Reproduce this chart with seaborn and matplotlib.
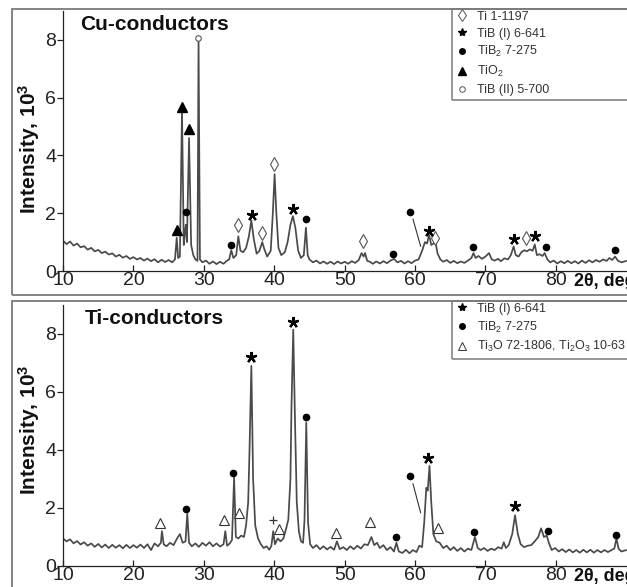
import matplotlib
matplotlib.use("Agg")
import matplotlib.pyplot as plt
import matplotlib.transforms as mtransforms
from matplotlib.lines import Line2D
from matplotlib.patches import Rectangle
import pandas as pd
import seaborn as sns

# ---- Cu-conductors pattern (2theta, intensity x10^3)
cu_2theta = [
    10.0, 10.5, 11.0, 11.5, 12.0, 12.5, 13.0, 13.5, 14.0, 14.5, 15.0, 15.5,
    16.0, 16.5, 17.0, 17.5, 18.0, 18.5, 19.0, 19.5, 20.0, 20.5, 21.0, 21.5,
    22.0, 22.5, 23.0, 23.5, 24.0, 24.5, 25.0, 25.5, 25.9, 26.15, 26.35, 26.6,
    26.9, 27.15, 27.3, 27.45, 27.6, 27.9, 28.2, 28.5, 28.8, 29.1, 29.25, 29.45,
    29.8, 30.3, 30.8, 31.3, 31.8, 32.3, 32.8, 33.3, 33.6, 33.9, 34.2, 34.6,
    34.9, 35.2, 35.6, 36.0, 36.4, 36.75, 37.1, 37.5, 37.9, 38.3, 38.6, 39.0,
    39.5, 39.8, 40.05, 40.3, 40.6, 41.0, 41.5, 41.9, 42.3, 42.65, 43.0, 43.4,
    43.8, 44.2, 44.5, 44.75, 45.0, 45.5, 46.0, 46.5, 47.0, 47.5, 48.0, 48.5,
    49.0, 49.5, 50.0, 50.5, 51.0, 51.5, 52.0, 52.4, 52.7, 52.9, 53.2, 53.6,
    54.0, 54.5, 55.0, 55.5, 56.0, 56.5, 57.0, 57.5, 58.0, 58.5, 59.0, 59.5,
    60.0, 60.5, 61.0, 61.4, 61.7, 62.0, 62.3, 62.6, 62.9, 63.2, 63.6, 64.0,
    64.5, 65.0, 65.5, 66.0, 66.5, 67.0, 67.5, 68.0, 68.3, 68.6, 69.0, 69.5,
    70.0, 70.5, 70.9, 71.3, 71.8, 72.2, 72.7, 73.2, 73.6, 74.0, 74.3, 74.7,
    75.1, 75.5, 75.9, 76.3, 76.7, 77.0, 77.3, 77.7, 78.1, 78.4, 78.8, 79.2,
    79.7, 80.2, 80.7, 81.2, 81.7, 82.2, 82.7, 83.2, 83.7, 84.2, 84.7, 85.2,
    85.7, 86.2, 86.7, 87.2, 87.6, 88.0, 88.4, 88.8, 89.3, 90.0,
]
cu_intensity = [
    1.05, 0.93, 1.02, 0.88, 0.95, 0.82, 0.86, 0.74, 0.80, 0.68, 0.73, 0.62,
    0.67, 0.57, 0.61, 0.50, 0.56, 0.46, 0.52, 0.42, 0.48, 0.40, 0.45, 0.36,
    0.43, 0.34, 0.41, 0.30, 0.39, 0.31, 0.38, 0.30, 0.40, 1.15, 0.45, 0.50,
    5.55, 0.90, 1.30, 1.60, 1.00, 4.60, 0.90, 0.55, 0.40, 0.35, 8.00, 0.40,
    0.30, 0.36, 0.25, 0.33, 0.24, 0.32, 0.25, 0.36, 0.40, 0.72, 0.45, 0.55,
    1.20, 0.70, 0.65, 0.80, 1.20, 1.75, 1.10, 0.60, 0.70, 1.00, 0.75, 0.50,
    0.70, 2.00, 3.35, 2.00, 0.80, 0.55, 0.65, 1.00, 1.60, 1.90, 1.50, 0.70,
    0.45, 0.55, 1.50, 0.55, 0.40, 0.30, 0.36, 0.26, 0.33, 0.25, 0.32, 0.24,
    0.33, 0.26, 0.32, 0.25, 0.34, 0.28, 0.38, 0.62, 0.50, 0.62, 0.35, 0.32,
    0.25, 0.33, 0.26, 0.34, 0.27, 0.36, 0.42, 0.30, 0.35, 0.26, 0.34, 0.27,
    0.36, 0.40, 0.70, 1.00, 0.95, 1.25, 0.90, 0.95, 1.00, 0.60, 0.40, 0.32,
    0.38, 0.28, 0.35, 0.27, 0.33, 0.28, 0.36, 0.45, 0.62, 0.45, 0.52, 0.42,
    0.50, 0.62, 0.40, 0.36, 0.42, 0.34, 0.44, 0.40, 0.55, 0.85, 0.55, 0.50,
    0.65, 0.72, 0.68, 0.75, 0.70, 0.92, 0.55, 0.58, 0.52, 0.62, 0.40, 0.30,
    0.36, 0.26, 0.34, 0.27, 0.35, 0.27, 0.34, 0.26, 0.36, 0.28, 0.37, 0.30,
    0.38, 0.32, 0.40, 0.35, 0.45, 0.38, 0.50, 0.36, 0.30, 0.35,
]

# ---- Ti-conductors pattern
ti_2theta = [
    10.0, 10.5, 11.0, 11.5, 12.0, 12.5, 13.0, 13.5, 14.0, 14.5, 15.0, 15.5,
    16.0, 16.5, 17.0, 17.5, 18.0, 18.5, 19.0, 19.5, 20.0, 20.5, 21.0, 21.5,
    22.0, 22.5, 23.0, 23.5, 23.9, 24.05, 24.3, 24.7, 25.2, 25.7, 26.2, 26.6,
    27.0, 27.4, 27.65, 27.9, 28.3, 28.8, 29.3, 29.8, 30.3, 30.8, 31.3, 31.8,
    32.3, 32.8, 33.05, 33.3, 33.7, 34.0, 34.3, 34.55, 34.9, 35.3, 35.7, 36.0,
    36.3, 36.5, 36.75, 37.0, 37.3, 37.7, 38.1, 38.5, 38.9, 39.3, 39.6, 39.85,
    40.1, 40.5, 40.9, 41.3, 41.7, 42.0, 42.3, 42.45, 42.7, 42.95, 43.2, 43.5,
    43.8, 44.1, 44.3, 44.55, 44.8, 45.1, 45.5, 46.0, 46.5, 47.0, 47.5, 48.0,
    48.5, 48.9, 49.3, 49.8, 50.3, 50.8, 51.3, 51.8, 52.3, 52.8, 53.3, 53.8,
    54.2, 54.6, 55.0, 55.5, 56.0, 56.5, 57.0, 57.35, 57.7, 58.2, 58.7, 59.2,
    59.7, 60.2, 60.6, 61.0, 61.3, 61.6, 61.8, 62.05, 62.3, 62.6, 63.0, 63.5,
    64.0, 64.5, 65.0, 65.5, 66.0, 66.5, 67.0, 67.5, 68.0, 68.5, 68.9, 69.3,
    69.8, 70.3, 70.8, 71.3, 71.8, 72.3, 72.6, 72.9, 73.3, 73.8, 74.2, 74.6,
    75.0, 75.5, 76.0, 76.5, 77.0, 77.5, 77.9, 78.3, 78.7, 79.0, 79.4, 79.9,
    80.4, 80.9, 81.4, 81.9, 82.4, 82.9, 83.4, 83.9, 84.4, 84.9, 85.4, 85.9,
    86.4, 86.9, 87.4, 87.9, 88.3, 88.6, 88.9, 89.3, 90.0,
]
ti_intensity = [
    0.95, 0.85, 0.92, 0.78, 0.86, 0.74, 0.82, 0.70, 0.78, 0.66, 0.76, 0.64,
    0.74, 0.62, 0.73, 0.63, 0.72, 0.61, 0.73, 0.62, 0.72, 0.63, 0.74, 0.62,
    0.75, 0.55, 0.78, 0.68, 0.80, 1.20, 0.75, 0.68, 0.80, 0.72, 0.95, 1.10,
    0.80, 0.85, 1.80, 0.80, 0.68, 0.78, 0.66, 0.80, 0.70, 0.82, 0.68, 0.78,
    0.67, 0.75, 1.20, 0.70, 0.78, 0.90, 3.05, 1.00, 0.95, 1.05, 1.00, 1.40,
    2.20, 4.10, 6.90, 3.00, 1.40, 0.95, 0.75, 0.62, 0.68, 0.56, 0.70, 1.20,
    0.75, 0.95, 0.85, 0.95, 1.30, 1.60, 3.00, 5.50, 8.15, 5.00, 2.20, 1.20,
    0.85, 0.80, 1.60, 4.95, 1.50, 0.75, 0.62, 0.72, 0.58, 0.68, 0.57, 0.66,
    0.56, 0.85, 0.58, 0.65, 0.55, 0.68, 0.58, 0.70, 0.60, 0.75, 0.72, 1.00,
    0.72, 0.80, 0.62, 0.72, 0.55, 0.65, 0.50, 0.80, 0.50, 0.45, 0.56, 0.44,
    0.55, 0.48, 0.70, 0.65, 1.50, 2.70, 2.60, 3.45, 2.20, 1.10, 0.85, 0.80,
    0.62, 0.70, 0.55, 0.65, 0.52, 0.62, 0.50, 0.60, 0.55, 1.00, 0.62, 0.55,
    0.62, 0.52, 0.60, 0.55, 0.65, 0.60, 0.82, 0.62, 0.72, 1.10, 1.75, 1.10,
    0.75, 0.65, 0.70, 0.72, 0.85, 1.00, 1.30, 1.00, 1.05, 0.80, 0.55, 0.62,
    0.50, 0.58, 0.48, 0.57, 0.47, 0.55, 0.46, 0.56, 0.47, 0.56, 0.46, 0.55,
    0.47, 0.55, 0.48, 0.55, 0.60, 0.95, 0.60, 0.50, 0.55,
]

# ---- phase marks (2theta, height of the mark)
cu_ti_x = [34.9, 38.3, 40.0, 52.6, 62.8, 75.8]
cu_ti_y = [1.6, 1.3, 3.7, 1.05, 1.15, 1.15]
cu_tib1_x = [36.8, 42.6, 62.0, 74.0, 77.0]
cu_tib1_y = [1.95, 2.15, 1.4, 1.1, 1.2]
cu_tib2_x = [27.5, 33.9, 44.5, 56.9, 59.3, 68.2, 78.6, 88.4]
cu_tib2_y = [2.03, 0.9, 1.8, 0.58, 2.03, 0.82, 0.83, 0.72]
cu_tio2_x = [26.2, 26.9, 27.9]
cu_tio2_y = [1.41, 5.69, 4.93]
cu_tib2nd_x = [29.2]
cu_tib2nd_y = [8.07]
cu_leader_x = [59.7, 60.8]
cu_leader_y = [1.8, 0.85]

ti_tib1_x = [36.7, 42.7, 61.9, 74.2]
ti_tib1_y = [7.2, 8.4, 3.74, 2.08]
ti_tib2_x = [27.5, 34.1, 44.5, 57.3, 59.3, 68.4, 78.9, 88.6]
ti_tib2_y = [1.97, 3.2, 5.15, 1.0, 3.1, 1.17, 1.21, 1.07]
ti_oxide_x = [23.8, 32.9, 35.0, 40.7, 48.8, 53.6, 63.3]
ti_oxide_y = [1.49, 1.6, 1.82, 1.27, 1.13, 1.52, 1.3]
ti_plus_x = [39.8]
ti_plus_y = [1.6]
ti_leader_x = [59.7, 60.8]
ti_leader_y = [2.84, 1.83]

x_ticks = [10, 20, 30, 40, 50, 60, 70, 80]
y_ticks = [0, 2, 4, 6, 8]

sns.set_style("ticks")
plt.rcParams["font.family"] = ["Liberation Sans", "DejaVu Sans"]
plt.rcParams["mathtext.default"] = "regular"

line_col = "#4a4a4a"
frame_col = "#7a7a7a"
W, H = 627, 587

fig = plt.figure(figsize=(W / 100, H / 100), dpi=100)
ax_top = fig.add_axes([63 / W, 1 - 271 / H, 1 - 63 / W, 260 / H])
ax_bot = fig.add_axes([63 / W, 1 - 566 / H, 1 - 63 / W, 261 / H])

cu = pd.DataFrame({"two_theta": cu_2theta, "intensity": cu_intensity})
ti = pd.DataFrame({"two_theta": ti_2theta, "intensity": ti_intensity})
sns.lineplot(data=cu, x="two_theta", y="intensity", ax=ax_top, color=line_col,
             lw=1.25, estimator=None, sort=False)
sns.lineplot(data=ti, x="two_theta", y="intensity", ax=ax_bot, color=line_col,
             lw=1.25, estimator=None, sort=False)

# styles of the phase marks
diamond = dict(marker="d", ms=7, mfc="white", mec="#555555", mew=0.8, ls="none")
star = dict(marker=(5, 2, 0), ms=8, mec="black", mew=1.6, ls="none")
dot = dict(marker="o", ms=4.5, mfc="black", mec="black", ls="none")
tri = dict(marker="^", ms=7, mfc="black", mec="black", ls="none")
ring = dict(marker="o", ms=4, mfc="white", mec="#555555", mew=0.8, ls="none")
otri = dict(marker="^", ms=7, mfc="white", mec="#333333", mew=0.8, ls="none")
plus = dict(marker="+", ms=6, mec="#333333", mew=0.9, ls="none")

ax_top.plot(cu_ti_x, cu_ti_y, **diamond)
ax_top.plot(cu_tib1_x, cu_tib1_y, **star)
ax_top.plot(cu_tib2_x, cu_tib2_y, **dot)
ax_top.plot(cu_tio2_x, cu_tio2_y, **tri)
ax_top.plot(cu_tib2nd_x, cu_tib2nd_y, **ring)
ax_top.plot(cu_leader_x, cu_leader_y, color="#333333", lw=0.8)

ax_bot.plot(ti_tib1_x, ti_tib1_y, **star)
ax_bot.plot(ti_tib2_x, ti_tib2_y, **dot)
ax_bot.plot(ti_oxide_x, ti_oxide_y, **otri)
ax_bot.plot(ti_plus_x, ti_plus_y, **plus)
ax_bot.plot(ti_leader_x, ti_leader_y, color="#333333", lw=0.8)

for ax, name, tx, ly in [(ax_top, "Cu-conductors", 0.030, 0.47),
                         (ax_bot, "Ti-conductors", 0.039, 0.52)]:
    ax.set_xlim(10, 90.1)
    ax.set_ylim(0, 9)
    ax.set_xticks(x_ticks)
    ax.set_yticks(y_ticks)
    sns.despine(ax=ax)
    for s in ["left", "bottom"]:
        ax.spines[s].set_color("#222222")
        ax.spines[s].set_linewidth(0.9)
    ax.tick_params(axis="x", direction="in", length=4, width=0.9, pad=1,
                   labelsize=14, colors="#222222")
    ax.tick_params(axis="y", direction="out", length=4, width=0.9, pad=1,
                   labelsize=14, colors="#222222")
    ax.set_xlabel("")
    ax.set_ylabel("Intensity, 10$^3$", fontsize=15, fontweight="bold",
                  color="#111111")
    ax.yaxis.set_label_coords(-0.037, ly)
    ax.text(tx, 0.985, name, transform=ax.transAxes, fontsize=15,
            fontweight="bold", va="top", ha="left", color="#111111")
    trans = mtransforms.blended_transform_factory(ax.transData, ax.transAxes)
    ax.text(82.6, -0.008, "2θ, deg", transform=trans, fontsize=13,
            fontweight="bold", va="top", ha="left", color="#111111")

# legends
h_top = [
    Line2D([], [], marker="d", ms=6, mfc="white", mec="#555555", mew=0.7, ls="none"),
    Line2D([], [], marker="*", ms=6, color="black", ls="none"),
    Line2D([], [], marker="o", ms=4, color="black", ls="none"),
    Line2D([], [], marker="^", ms=6, color="black", ls="none"),
    Line2D([], [], marker="o", ms=4, mfc="white", mec="#555555", mew=0.7, ls="none"),
]
lab_top = ["Ti 1-1197", "TiB (I) 6-641", "TiB$_2$ 7-275", "TiO$_2$",
           "TiB (II) 5-700"]
h_bot = [
    Line2D([], [], marker="*", ms=6, color="black", ls="none"),
    Line2D([], [], marker="o", ms=4, color="black", ls="none"),
    Line2D([], [], marker="^", ms=6, mfc="white", mec="#333333", mew=0.7, ls="none"),
]
lab_bot = ["TiB (I) 6-641", "TiB$_2$ 7-275", "Ti$_3$O 72-1806, Ti$_2$O$_3$ 10-63"]

leg_kw = dict(loc="upper left", bbox_transform=fig.transFigure, frameon=False,
              fontsize=9, handlelength=1.0, handletextpad=0.7,
              labelspacing=0.38, borderpad=0.3, borderaxespad=0)
lt = ax_top.legend(h_top, lab_top, bbox_to_anchor=(452 / W, 1 - 7 / H), **leg_kw)
lb = ax_bot.legend(h_bot, lab_bot, bbox_to_anchor=(452 / W, 1 - 299 / H), **leg_kw)
for lg in (lt, lb):
    for t in lg.get_texts():
        t.set_color("#333333")

# panel frames and legend boxes
fig.patches.extend([
    Rectangle((12 / W, 1 - 295 / H), 1.0, 286 / H, transform=fig.transFigure,
              fill=False, ec=frame_col, lw=1.3),
    Rectangle((12 / W, -0.2), 1.0, 0.2 + 1 - 301 / H, transform=fig.transFigure,
              fill=False, ec=frame_col, lw=1.3),
    Rectangle((452 / W, 1 - 100 / H), 0.5, 91 / H, transform=fig.transFigure,
              fill=False, ec=frame_col, lw=1.1),
    Rectangle((452 / W, 1 - 359 / H), 0.5, 58 / H, transform=fig.transFigure,
              fill=False, ec=frame_col, lw=1.1),
])

fig.savefig("out.png", dpi=100, facecolor="white")
